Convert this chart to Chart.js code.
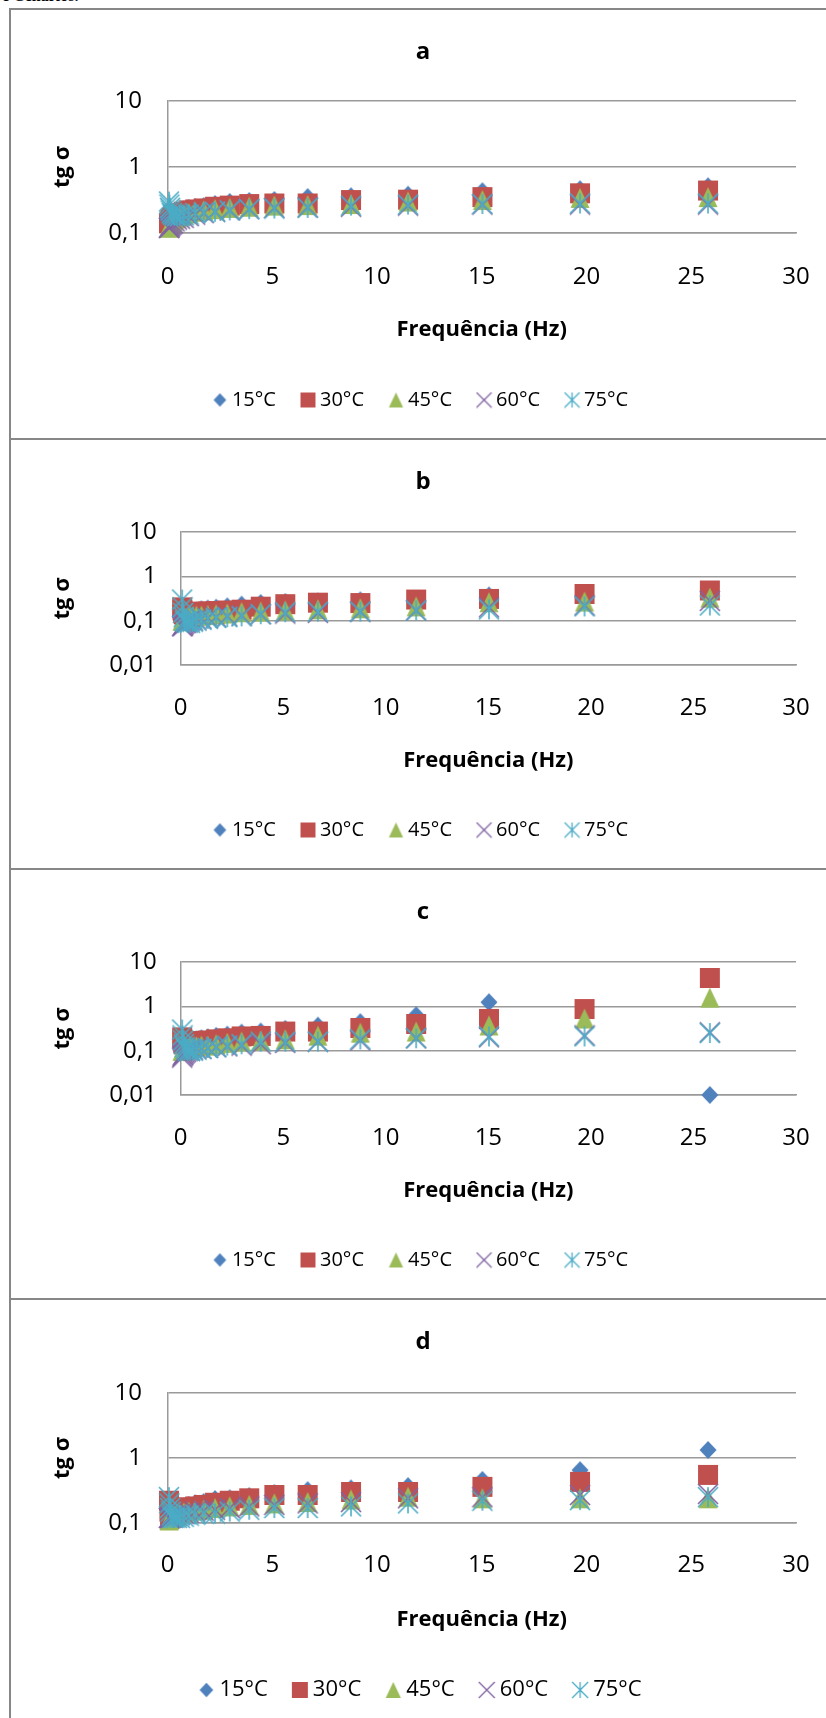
<!DOCTYPE html>
<html>
<head>
<meta charset="utf-8">
<script src="https://cdn.jsdelivr.net/npm/chart.js@4.4.0/dist/chart.umd.min.js"></script>
<style>
  html, body { margin: 0; padding: 0; background: #fff; overflow: hidden; }
  body { width: 826px; height: 1718px; position: relative; }
  #cut { position: absolute; left: 2px; top: -13px; font: bold 16px 'Liberation Serif', serif; color: #000; white-space: nowrap; }
  #frame { position: absolute; left: 9px; top: 8px; width: 900px; height: 1800px; border-left: 2px solid #878787; border-top: 2px solid #878787; }
  .sep { position: absolute; left: 9px; width: 900px; height: 2px; background: #878787; }
  canvas { position: absolute; left: 0; }
</style>
</head>
<body>
<div id="cut">e Cenários.</div>
<div id="frame"></div>
<div class="sep" style="top:438px"></div>
<div class="sep" style="top:868px"></div>
<div class="sep" style="top:1298px"></div>
<canvas id="chartA" width="826" height="428" style="top:10px"></canvas>
<canvas id="chartB" width="826" height="428" style="top:440px"></canvas>
<canvas id="chartC" width="826" height="428" style="top:870px"></canvas>
<canvas id="chartD" width="826" height="418" style="top:1300px"></canvas>
<script>
// frequency sweep (Hz), shared by every panel
const freqHz = [0.07, 0.09, 0.12, 0.15, 0.2, 0.26, 0.34, 0.45, 0.59, 0.77, 1.01, 1.32, 1.73, 2.27, 2.97, 3.9, 5.1, 6.69, 8.76, 11.48, 15.03, 19.69, 25.8];
const temps = ['15°C', '30°C', '45°C', '60°C', '75°C'];
const xTicks = [0, 5, 10, 15, 20, 25, 30];
const xTitle = 'Frequência (Hz)';
const yTitle = 'tg σ';
const yTicks3 = [0.1, 1, 10];
const yLabels3 = ['0,1', '1', '10'];
const yTicks4 = [0.01, 0.1, 1, 10];
const yLabels4 = ['0,01', '0,1', '1', '10'];

// panel a
const a15 = [0.14, 0.15, 0.16, 0.17, 0.18, 0.19, 0.2, 0.21, 0.22, 0.23, 0.239, 0.247, 0.256, 0.275, 0.295, 0.305, 0.316, 0.35, 0.36, 0.38, 0.43, 0.46, 0.51];
const a30 = [0.14, 0.145, 0.15, 0.16, 0.17, 0.18, 0.19, 0.195, 0.2, 0.21, 0.22, 0.228, 0.236, 0.25, 0.26, 0.275, 0.28, 0.28, 0.316, 0.32, 0.35, 0.40, 0.44];
const a45 = [0.12, 0.125, 0.13, 0.135, 0.14, 0.15, 0.16, 0.17, 0.18, 0.19, 0.2, 0.21, 0.22, 0.23, 0.24, 0.25, 0.26, 0.265, 0.275, 0.3, 0.316, 0.34, 0.35];
const a60 = [0.12, 0.12, 0.125, 0.13, 0.135, 0.14, 0.15, 0.16, 0.165, 0.17, 0.18, 0.19, 0.2, 0.21, 0.22, 0.23, 0.24, 0.245, 0.25, 0.26, 0.27, 0.27, 0.27];
const a75 = [0.3, 0.27, 0.24, 0.22, 0.2, 0.19, 0.185, 0.18, 0.18, 0.185, 0.19, 0.2, 0.205, 0.21, 0.22, 0.23, 0.235, 0.24, 0.26, 0.27, 0.275, 0.28, 0.28];

// panel b
const b15 = [0.1, 0.105, 0.11, 0.115, 0.12, 0.13, 0.14, 0.15, 0.16, 0.17, 0.18, 0.187, 0.196, 0.21, 0.23, 0.25, 0.264, 0.27, 0.287, 0.30, 0.37, 0.38, 0.45];
const b30 = [0.2, 0.17, 0.15, 0.14, 0.13, 0.13, 0.135, 0.14, 0.145, 0.15, 0.16, 0.162, 0.165, 0.17, 0.177, 0.207, 0.236, 0.255, 0.25, 0.30, 0.31, 0.40, 0.48];
const b45 = [0.1, 0.1, 0.105, 0.11, 0.11, 0.115, 0.12, 0.12, 0.125, 0.13, 0.13, 0.135, 0.14, 0.145, 0.155, 0.16, 0.17, 0.18, 0.19, 0.21, 0.26, 0.27, 0.33];
const b60 = [0.075, 0.075, 0.08, 0.085, 0.09, 0.09, 0.095, 0.1, 0.1, 0.105, 0.11, 0.115, 0.12, 0.125, 0.13, 0.14, 0.145, 0.15, 0.16, 0.17, 0.2, 0.22, 0.28];
const b75 = [0.3, 0.2, 0.15, 0.12, 0.1, 0.095, 0.09, 0.09, 0.095, 0.1, 0.105, 0.11, 0.115, 0.12, 0.125, 0.14, 0.155, 0.16, 0.16, 0.17, 0.18, 0.21, 0.22];

// panel c
const c15 = [0.12, 0.125, 0.13, 0.14, 0.145, 0.15, 0.16, 0.165, 0.17, 0.18, 0.19, 0.2, 0.215, 0.23, 0.255, 0.27, 0.31, 0.366, 0.44, 0.63, 1.24, 0.85, 0.01];
const c30 = [0.2, 0.17, 0.15, 0.14, 0.14, 0.14, 0.145, 0.15, 0.155, 0.16, 0.165, 0.17, 0.18, 0.19, 0.21, 0.215, 0.27, 0.27, 0.325, 0.40, 0.52, 0.87, 4.37];
const c45 = [0.1, 0.1, 0.1, 0.105, 0.11, 0.11, 0.115, 0.12, 0.12, 0.125, 0.13, 0.13, 0.14, 0.15, 0.16, 0.17, 0.18, 0.218, 0.255, 0.27, 0.37, 0.53, 1.57];
const c60 = [0.07, 0.075, 0.08, 0.085, 0.09, 0.095, 0.1, 0.1, 0.105, 0.11, 0.11, 0.115, 0.12, 0.125, 0.13, 0.14, 0.15, 0.16, 0.17, 0.19, 0.2, 0.22, 0.26];
const c75 = [0.3, 0.22, 0.17, 0.14, 0.12, 0.11, 0.1, 0.1, 0.1, 0.105, 0.11, 0.115, 0.12, 0.13, 0.14, 0.16, 0.16, 0.16, 0.18, 0.19, 0.21, 0.21, 0.25];

// panel d
const d15 = [0.12, 0.125, 0.13, 0.14, 0.145, 0.15, 0.155, 0.165, 0.17, 0.18, 0.19, 0.2, 0.21, 0.234, 0.24, 0.26, 0.29, 0.32, 0.34, 0.37, 0.46, 0.65, 1.33];
const d30 = [0.22, 0.15, 0.13, 0.12, 0.12, 0.13, 0.14, 0.15, 0.16, 0.17, 0.175, 0.18, 0.19, 0.205, 0.22, 0.24, 0.27, 0.27, 0.3, 0.3, 0.36, 0.43, 0.55];
const d45 = [0.11, 0.11, 0.115, 0.12, 0.12, 0.125, 0.13, 0.135, 0.14, 0.145, 0.15, 0.155, 0.16, 0.17, 0.18, 0.19, 0.2, 0.21, 0.23, 0.254, 0.24, 0.24, 0.24];
const d60 = [0.12, 0.12, 0.12, 0.12, 0.125, 0.125, 0.13, 0.13, 0.135, 0.14, 0.145, 0.15, 0.155, 0.16, 0.17, 0.18, 0.19, 0.2, 0.21, 0.24, 0.25, 0.27, 0.28];
const d75 = [0.25, 0.2, 0.17, 0.15, 0.13, 0.12, 0.12, 0.12, 0.12, 0.125, 0.13, 0.135, 0.14, 0.14, 0.15, 0.16, 0.17, 0.17, 0.18, 0.2, 0.22, 0.225, 0.25];

const colors = ['#4F81BD', '#C0504D', '#9BBB59', '#8064A2', '#4BACC6'];
const kinds = ['diamond', 'square', 'triangle', 'x', 'star'];
const gridColor = '#9a9a9a';
const tickFont = 24, axisFont = 22, titleFont = 24;

Chart.defaults.font.family = "'Open Sans', sans-serif";
Chart.defaults.color = '#000';

// excel-like marker drawn on a small canvas
function marker(kind, s, color) {
  const c = document.createElement('canvas');
  c.width = s + 2; c.height = s + 2;
  const g = c.getContext('2d');
  const m = (s + 2) / 2, h = s / 2;
  g.fillStyle = color; g.strokeStyle = color;
  g.lineWidth = s > 16 ? 1.6 : 1.3;
  g.beginPath();
  if (kind == 'diamond') {
    g.moveTo(m, m - h * 0.9); g.lineTo(m + h * 0.85, m); g.lineTo(m, m + h * 0.9); g.lineTo(m - h * 0.85, m);
    g.closePath(); g.fill();
  } else if (kind == 'square') {
    g.fillRect(m - h, m - h, s, s);
  } else if (kind == 'triangle') {
    g.moveTo(m, m - h); g.lineTo(m + h * 0.95, m + h); g.lineTo(m - h * 0.95, m + h);
    g.closePath(); g.fill();
  } else {
    g.moveTo(m - h, m - h); g.lineTo(m + h, m + h);
    g.moveTo(m + h, m - h); g.lineTo(m - h, m + h);
    if (kind == 'star') { g.moveTo(m, m - h); g.lineTo(m, m + h); }
    g.stroke();
  }
  return c;
}

// lay holds wanted pixel rows (canvas coords); paddings are worked out from them
function buildChart(id, lay, ys, yMin, yTicks, yLabels) {
  const H = document.getElementById(id).height;
  const lf = lay.legendFont, lp = 30;
  const padBottom = H - lay.legendY - lf / 2 - 10;
  const legendTop = H - padBottom - lf - lp - 10;
  const xHeight = legendTop - lay.plotBottom;
  const xTickPad = lay.tickY - lay.plotBottom - 0.6 * tickFont;
  const xTitlePad = legendTop - lay.xTitleY - 0.6 * axisFont;
  const titleTop = lay.titleY - 0.6 * titleFont;
  const titleBottom = lay.plotTop - titleTop - 1.2 * titleFont;

  const big = kinds.map((k, i) => marker(k, 20, colors[i]));
  const small = kinds.map((k, i) => marker(k, lay.legendMark, colors[i]));
  const datasets = temps.map((t, i) => ({
    label: t,
    data: freqHz.map((f, k) => ({x: f, y: ys[i][k]})),
    pointStyle: big[i],
    order: 5 - i,   // 75°C on top, like excel
    clip: false
  }));

  return new Chart(document.getElementById(id).getContext('2d'), {
    type: 'scatter',
    data: {datasets: datasets},
    options: {
      responsive: false,
      animation: false,
      events: [],
      layout: {padding: {left: 50, right: 30, top: 0, bottom: padBottom}},
      plugins: {
        title: {
          display: true, text: lay.title, color: '#000',
          font: {size: titleFont, weight: 'bold'},
          padding: {top: titleTop, bottom: titleBottom}
        },
        legend: {
          position: 'bottom',
          labels: {
            usePointStyle: true, boxWidth: 4, boxHeight: 14, padding: lp,
            color: '#000', font: {size: lf},
            generateLabels: chart => chart.data.datasets.map((ds, i) => ({
              text: ds.label, pointStyle: small[i], datasetIndex: i,
              hidden: false, lineWidth: 0, fontColor: '#000'
            }))
          }
        },
        tooltip: {enabled: false}
      },
      scales: {
        x: {
          type: 'linear', min: 0, max: 30,
          afterBuildTicks: s => { s.ticks = xTicks.map(v => ({value: v})); },
          afterFit: s => { s.height = xHeight; s.paddingLeft = 15; s.paddingRight = 15; },
          ticks: {padding: xTickPad, font: {size: tickFont}, color: '#000', autoSkip: false, maxRotation: 0},
          grid: {display: false, drawTicks: false},
          border: {color: gridColor, width: 1.5},
          title: {display: true, text: xTitle, color: '#000', font: {size: axisFont, weight: 'bold'}, padding: {top: 0, bottom: xTitlePad}}
        },
        y: {
          type: 'logarithmic', min: yMin, max: 10,
          afterBuildTicks: s => { s.ticks = yTicks.map(v => ({value: v})); },
          afterFit: s => { s.width = lay.plotLeft - 50; },
          ticks: {padding: lay.yTickPad, font: {size: tickFont}, color: '#000', autoSkip: false, callback: (v, i) => yLabels[i]},
          grid: {color: gridColor, lineWidth: 1.5, drawTicks: false},
          border: {color: gridColor, width: 1.5},
          title: {display: true, text: yTitle, color: '#000', font: {size: axisFont, weight: 'bold'}, padding: {top: 0, bottom: 0}}
        }
      }
    }
  });
}

buildChart('chartA', {title: 'a', titleY: 42, plotTop: 91, plotBottom: 223, tickY: 267, xTitleY: 320, legendY: 390, plotLeft: 167.5, yTickPad: 25.5, legendFont: 20, legendMark: 15},
  [a15, a30, a45, a60, a75], 0.1, yTicks3, yLabels3);
buildChart('chartB', {title: 'b', titleY: 42, plotTop: 92, plotBottom: 225, tickY: 268, xTitleY: 321, legendY: 390, plotLeft: 180.7, yTickPad: 24, legendFont: 20, legendMark: 15},
  [b15, b30, b45, b60, b75], 0.01, yTicks4, yLabels4);
buildChart('chartC', {title: 'c', titleY: 42, plotTop: 92, plotBottom: 225, tickY: 268, xTitleY: 321, legendY: 390, plotLeft: 180.7, yTickPad: 24, legendFont: 20, legendMark: 15},
  [c15, c30, c45, c60, c75], 0.01, yTicks4, yLabels4);
buildChart('chartD', {title: 'd', titleY: 42, plotTop: 93, plotBottom: 223, tickY: 265, xTitleY: 320, legendY: 390, plotLeft: 167.5, yTickPad: 25.5, legendFont: 22, legendMark: 16},
  [d15, d30, d45, d60, d75], 0.1, yTicks3, yLabels3);
</script>
</body>
</html>
